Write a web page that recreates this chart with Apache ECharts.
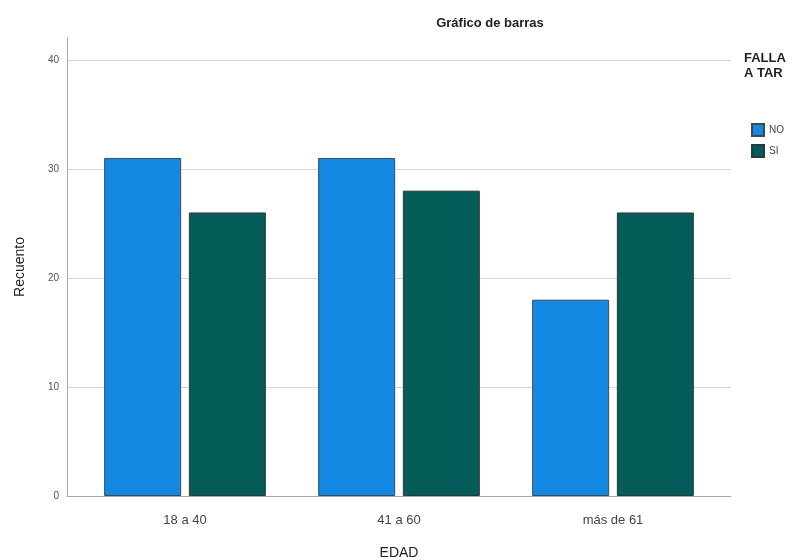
<!DOCTYPE html>
<html>
<head>
<meta charset="utf-8">
<script src="https://cdn.jsdelivr.net/npm/echarts@6/dist/echarts.min.js"></script>
<style>
  html, body { margin: 0; padding: 0; background: #fff; }
  #chart { width: 801px; height: 560px; }
</style>
</head>
<body>
<div id="chart"></div>
<script>
var categories = ['18 a 40', '41 a 60', 'más de 61'];
var values_no = [31, 31, 18];
var values_si = [26, 28, 26];
var series_names = ['NO', 'SI'];

var myChart = echarts.init(document.getElementById('chart'));

var font = 'Liberation Sans, Arial, sans-serif';

var option = {
    backgroundColor: '#ffffff',
    animation: false,
    title: [{
        text: 'Gráfico de barras',
        left: 485,
        top: 12,
        textAlign: 'center',
        textStyle: { fontFamily: font, fontSize: 13, fontWeight: 'bold', color: '#222' }
    }, {
        text: 'FALLA\nA TAR',
        left: 739,
        top: 46,
        textStyle: { fontFamily: font, fontSize: 13, fontWeight: 'bold', color: '#222', lineHeight: 15 }
    }],
    legend: {
        orient: 'vertical',
        left: 746,
        top: 118,
        itemWidth: 12,
        itemHeight: 12,
        itemGap: 7,
        icon: 'rect',
        data: series_names,
        textStyle: { fontFamily: font, fontSize: 10, color: '#444' }
    },
    // grid 0: axes and gridlines, grid 1: the bars
    grid: [
        { left: 67, right: 70, top: 38, bottom: 64, outerBoundsMode: 'none', containLabel: false },
        { left: 78, right: 81, top: 38, bottom: 64, outerBoundsMode: 'none', containLabel: false }
    ],
    xAxis: [{
        gridIndex: 0,
        type: 'category',
        data: ['', '', ''],
        axisLine: { lineStyle: { color: '#a8a8a8' } },
        axisTick: { show: false },
        axisLabel: { show: false }
    }, {
        gridIndex: 1,
        type: 'category',
        data: categories,
        axisLine: { show: false },
        axisTick: { show: false },
        axisLabel: { fontFamily: font, fontSize: 13, color: '#444', margin: 18 },
        name: 'EDAD',
        nameLocation: 'middle',
        nameGap: 50,
        nameTextStyle: { fontFamily: font, fontSize: 14, color: '#222' }
    }],
    yAxis: [{
        gridIndex: 0,
        type: 'value',
        min: 0,
        max: 42,
        interval: 10,
        axisLine: { show: true, lineStyle: { color: '#a8a8a8' } },
        axisTick: { show: false },
        axisLabel: {
            fontFamily: font, fontSize: 10, color: '#555', margin: 8,
            formatter: function (v) { return v % 10 === 0 ? String(v) : ''; }
        },
        splitLine: { show: true, showMinLine: false, showMaxLine: false, lineStyle: { color: '#d6d6d6' } },
        name: 'Recuento',
        nameLocation: 'middle',
        nameGap: 40,
        nameTextStyle: { fontFamily: font, fontSize: 14, color: '#222' }
    }, {
        gridIndex: 1,
        type: 'value',
        min: 0,
        max: 42,
        interval: 10,
        show: false
    }],
    series: [{
        name: 'NO',
        type: 'bar',
        xAxisIndex: 1,
        yAxisIndex: 1,
        data: values_no,
        barWidth: 77,
        barGap: '10%',
        itemStyle: { color: '#1489e4', borderColor: '#3a4a55', borderWidth: 1 }
    }, {
        name: 'SI',
        type: 'bar',
        xAxisIndex: 1,
        yAxisIndex: 1,
        data: values_si,
        barWidth: 77,
        barGap: '10%',
        itemStyle: { color: '#045c58', borderColor: '#2a3a3a', borderWidth: 1 }
    }]
};

myChart.setOption(option);
</script>
</body>
</html>
